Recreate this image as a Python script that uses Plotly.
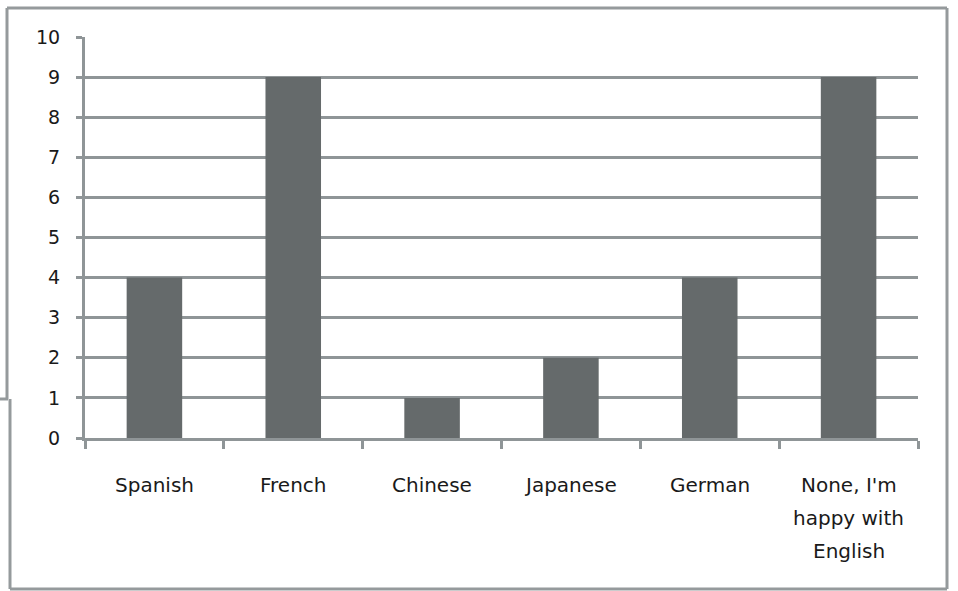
import plotly.graph_objects as go

categories = ["Spanish", "French", "Chinese", "Japanese", "German", "None, I'm<br>happy with<br>English"]
values = [4, 9, 1, 2, 4, 9]
y_ticks = list(range(0, 11))

W, H = 958, 591
L, R, T, B = 85, 40, 37, 153
PW, PH = W - L - R, H - T - B

def px(x):
    return (x - L) / PW

def py(y):
    return (H - B - y) / PH

grid_col = "#8f9597"
bar_col = "#656a6b"
text_col = "#1a1a1a"

fig = go.Figure(go.Bar(x=list(range(len(categories))), y=values, marker_color=bar_col,
                       marker_line_width=0, width=0.4))

annotations = []
for i, c in enumerate(categories):
    for j, line in enumerate(c.split("<br>")):
        annotations.append(dict(x=i, y=0, xref="x", yref="y", text=line, showarrow=False,
                                yanchor="middle", xanchor="center", yshift=-47 - 33 * j,
                                font=dict(family="DejaVu Sans", size=20, color=text_col)))

border = dict(color="#959a9c", width=3)
shapes = [
    dict(type="line", xref="paper", yref="paper", x0=px(7), x1=px(947), y0=py(8), y1=py(8), line=border),
    dict(type="line", xref="paper", yref="paper", x0=px(947), x1=px(947), y0=py(8), y1=py(589), line=border),
    dict(type="line", xref="paper", yref="paper", x0=px(10), x1=px(947), y0=py(589), y1=py(589), line=border),
    dict(type="line", xref="paper", yref="paper", x0=px(7), x1=px(7), y0=py(8), y1=py(399), line=border),
    dict(type="line", xref="paper", yref="paper", x0=px(0), x1=px(8), y0=py(399), y1=py(399), line=border),
    dict(type="line", xref="paper", yref="paper", x0=px(10), x1=px(10), y0=py(399), y1=py(589), line=border),
]

fig.update_layout(
    width=W, height=H,
    margin=dict(l=L, r=R, t=T, b=B, pad=0),
    paper_bgcolor="white", plot_bgcolor="white",
    showlegend=False,
    annotations=annotations,
    shapes=shapes,
    xaxis=dict(type="linear", range=[-0.5, len(categories) - 0.5],
               tickvals=[i - 0.5 for i in range(len(categories) + 1)],
               showticklabels=False, ticks="outside", ticklen=8, tickwidth=3, tickcolor=grid_col,
               showgrid=False, showline=True, linecolor=grid_col, linewidth=3, zeroline=False),
    yaxis=dict(range=[0, 10], tickvals=y_ticks, ticks="outside", ticklen=6, tickwidth=3,
               tickcolor=grid_col, showgrid=True, gridcolor=grid_col, gridwidth=3,
               showline=True, linecolor=grid_col, linewidth=3, zeroline=False,
               ticklabelstandoff=12,
               tickfont=dict(family="DejaVu Sans", size=19, color=text_col)),
)

fig.write_html("out.html", config={"displayModeBar": False},
               post_script="document.body.style.margin='0';document.body.style.overflow='hidden';")
